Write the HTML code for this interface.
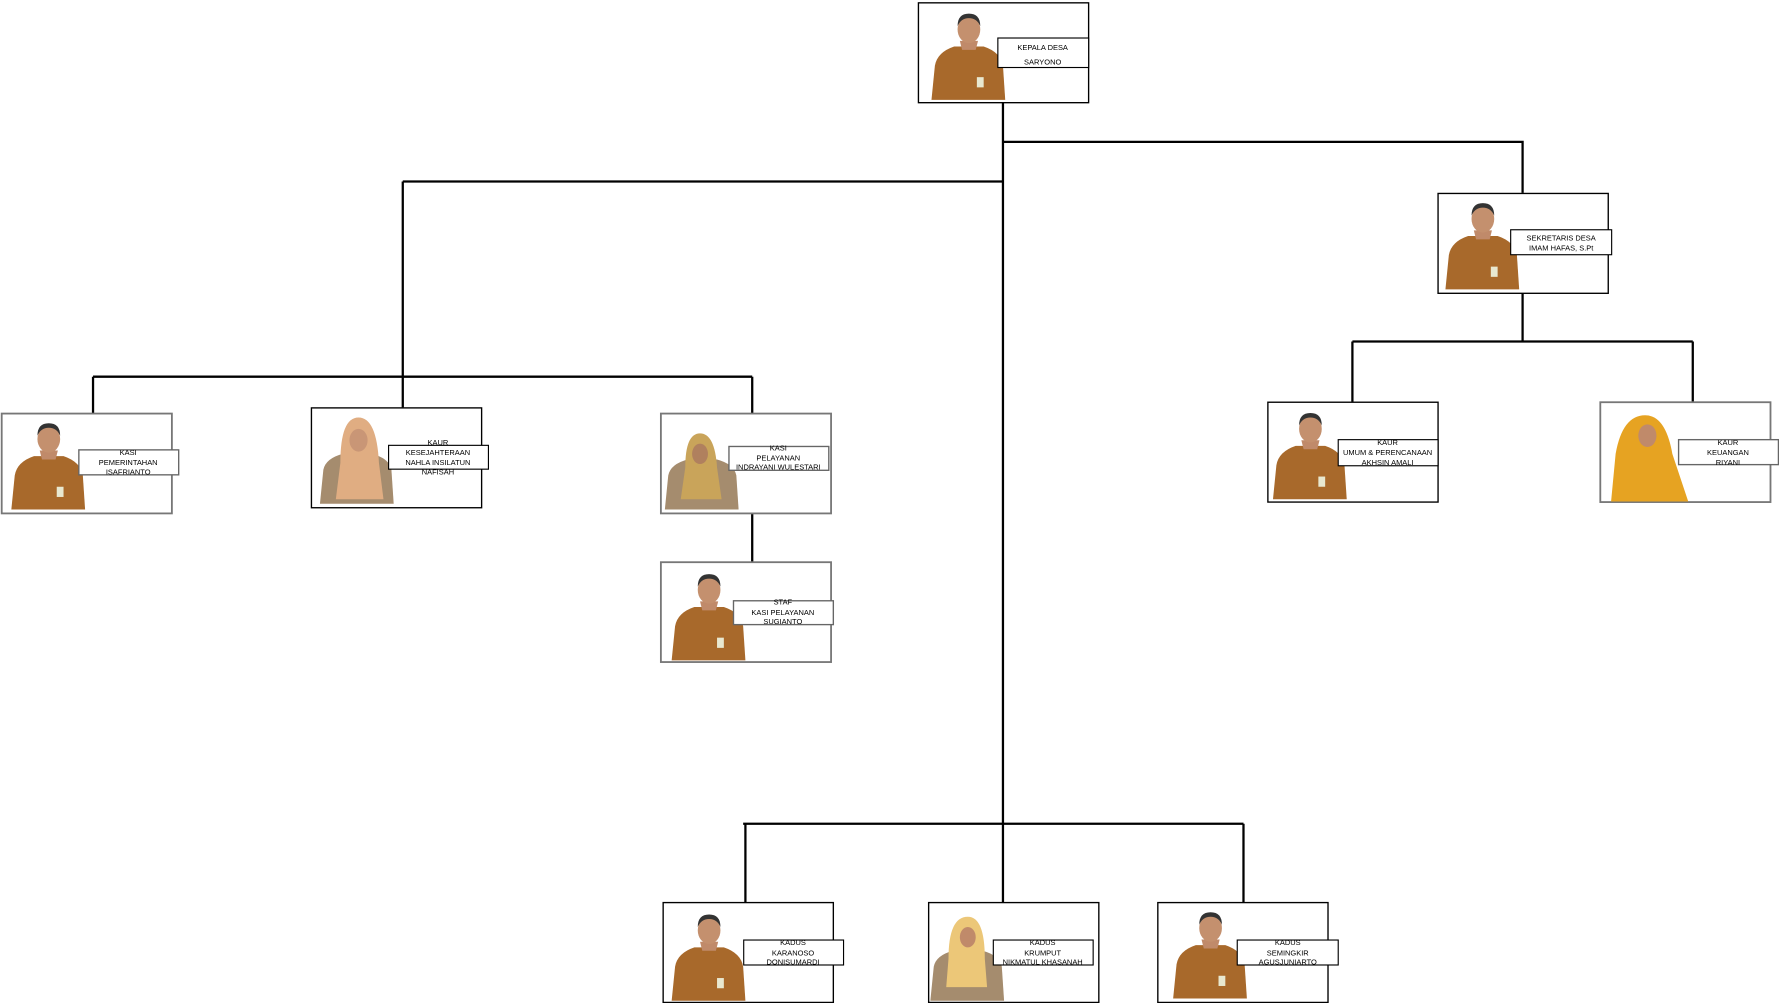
<!DOCTYPE html>
<html><head><meta charset="utf-8"><style>
html,body{margin:0;padding:0;background:#fff;width:1779px;height:1003px;overflow:hidden}
svg{display:block}
text{font-family:"Liberation Sans",sans-serif;font-size:6.6px;fill:#000;text-anchor:middle}
</style></head><body>
<svg width="1779" height="1003" viewBox="0 0 1568 884" preserveAspectRatio="none">
<defs>
<g id="man">
<path d="M2,82 L5,52 Q7,40 22,35 L48,35 Q63,40 65,52 L67,82 Z" fill="#a8692b"/>
<path d="M27,30 L43,30 L41,38 L29,38 Z" fill="#c08a6a"/>
<ellipse cx="35" cy="20" rx="10" ry="12" fill="#c4906e"/>
<path d="M25,17 Q25,6 35,6 Q45,6 45,17 Q42,10 35,10 Q28,10 25,17Z" fill="#333"/>
<rect x="42" y="62" width="6" height="9" fill="#e8e8d0"/>
</g>
<g id="woman">
<path d="M2,82 L5,52 Q7,42 22,38 L48,38 Q63,42 65,52 L67,82 Z" fill="#a58c6e"/>
</g>
</defs>
<g stroke="#000" stroke-width="2" fill="none">
<path d="M884,90 V726 M884,125 H1342 V170 M355,160 H884 M355,160 V359 M82,332 H663 M82,332 V364 M663,332 V364 M663,452 V495 M1342,258 V301 M1192,301 H1492 M1192,301 V354 M1492,301 V354 M655,726 H1096 M657,726 V795 M1096,726 V795 M884,726 V795"/>
</g>
<g fill="#fff" stroke="#000" stroke-width="1.2">
<rect x="809.5" y="2.5" width="150" height="88"/>
<rect x="1267.5" y="170.5" width="150" height="88"/>
<rect x="1117.5" y="354.5" width="150" height="88"/>
<rect x="274.5" y="359.5" width="150" height="88"/>
<rect x="584.5" y="795.5" width="150" height="88"/>
<rect x="818.5" y="795.5" width="150" height="88"/>
<rect x="1020.5" y="795.5" width="150" height="88"/>
</g>
<g fill="#fff" stroke="#777" stroke-width="1.6">
<rect x="1.5" y="364.5" width="150" height="88"/>
<rect x="582.5" y="364.5" width="150" height="88"/>
<rect x="582.5" y="495.5" width="150" height="88"/>
<rect x="1410.5" y="354.5" width="150" height="88"/>
</g>
<!-- people -->
<use href="#man" x="819" y="6"/>
<use href="#man" x="1272" y="173"/>
<use href="#man" x="1120" y="358"/>
<use href="#man" x="8" y="367"/>
<use href="#man" x="590" y="500"/>
<use href="#man" x="590" y="800"/>
<use href="#man" x="1032" y="798"/>
<g>
<use href="#woman" x="280" y="362"/>
<path d="M300,408 Q300,368 316,368 Q332,368 334,408 L338,440 L296,440 Z" fill="#e0ad82"/>
<ellipse cx="316" cy="388" rx="8" ry="10" fill="#c99676"/>
</g>
<g>
<use href="#woman" x="584" y="367"/>
<path d="M604,412 Q604,382 617,382 Q630,382 632,412 L636,440 L600,440 Z" fill="#c9a45a"/>
<ellipse cx="617" cy="400" rx="7" ry="9" fill="#b0805e"/>
</g>
<g>
<path d="M1420,442 L1424,400 Q1430,366 1450,366 Q1468,366 1474,400 L1488,442 Z" fill="#e6a322"/>
<ellipse cx="1452" cy="384" rx="8" ry="10" fill="#c08a6a"/>
</g>
<g>
<use href="#woman" x="818" y="800"/>
<path d="M836,845 Q836,808 853,808 Q868,808 868,845 L870,870 L834,870 Z" fill="#ecc778"/>
<ellipse cx="853" cy="826" rx="7" ry="9" fill="#c08a6a"/>
</g>
<!-- label boxes -->
<g fill="#fff" stroke="#000" stroke-width="1">
<rect x="879.5" y="33.5" width="80" height="26"/>
<rect x="1331.5" y="202.5" width="89" height="22"/>
<rect x="1179.5" y="387.5" width="88" height="23"/>
<rect x="342.5" y="392.5" width="88" height="21"/>
<rect x="655.5" y="828.5" width="88" height="22"/>
<rect x="875.5" y="828.5" width="88" height="22"/>
<rect x="1090.5" y="828.5" width="89" height="22"/>
</g>
<g fill="#fff" stroke="#666" stroke-width="1.2">
<rect x="69.5" y="396.5" width="88" height="22"/>
<rect x="642.5" y="393.5" width="88" height="21"/>
<rect x="646.5" y="529.5" width="88" height="21"/>
<rect x="1479.5" y="387.5" width="88" height="22"/>
</g>
<text x="919" y="44">KEPALA DESA</text><text x="919" y="57">SARYONO</text>
<text x="1376" y="212">SEKRETARIS DESA</text><text x="1376" y="221">IMAM HAFAS, S.Pt</text>
<text x="1223" y="392">KAUR</text><text x="1223" y="401">UMUM &amp; PERENCANAAN</text><text x="1223" y="410">AKHSIN AMALI</text>
<text x="1523" y="392">KAUR</text><text x="1523" y="401">KEUANGAN</text><text x="1523" y="410">RIYANI</text>
<text x="113" y="401">KASI</text><text x="113" y="410">PEMERINTAHAN</text><text x="113" y="418">ISAFRIANTO</text>
<text x="386" y="392">KAUR</text><text x="386" y="401">KESEJAHTERAAN</text><text x="386" y="410">NAHLA INSILATUN</text><text x="386" y="418">NAFISAH</text>
<text x="686" y="397">KASI</text><text x="686" y="406">PELAYANAN</text><text x="686" y="414">INDRAYANI WULESTARI</text>
<text x="690" y="533">STAF</text><text x="690" y="542">KASI PELAYANAN</text><text x="690" y="550">SUGIANTO</text>
<text x="699" y="833">KADUS</text><text x="699" y="842">KARANOSO</text><text x="699" y="850">DONISUMARDI</text>
<text x="919" y="833">KADUS</text><text x="919" y="842">KRUMPUT</text><text x="919" y="850">NIKMATUL KHASANAH</text>
<text x="1135" y="833">KADUS</text><text x="1135" y="842">SEMINGKIR</text><text x="1135" y="850">AGUSJUNIARTO</text>
</svg>
</body></html>
